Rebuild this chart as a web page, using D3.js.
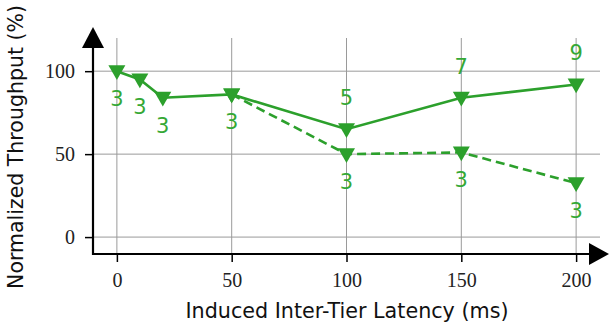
<!DOCTYPE html>
<html>
<head>
<meta charset="utf-8">
<script src="https://cdn.jsdelivr.net/npm/d3@7"></script>
<style>
  html, body { margin: 0; padding: 0; background: #fff; }
  svg { display: block; }
</style>
</head>
<body>
<svg id="chart" width="609" height="329"></svg>
<script>
// ── DATA ────────────────────────────────────────────
const xTicks = [0, 50, 100, 150, 200];
const yTicks = [0, 50, 100];

// solid series: latency (ms), throughput (%), annotation
const solidX      = [0, 10, 20, 50, 100, 150, 200];
const solidY      = [100, 95, 84, 86, 65, 84, 92];
const solidLabels = ['3', '3', '3', '3', '5', '7', '9'];
const solidPos    = ['below', 'below', 'below', 'below', 'above', 'above', 'above'];

// dashed series
const dashX      = [50, 100, 150, 200];
const dashY      = [86, 50, 51, 32.5];
const dashLabels = ['', '3', '3', '3'];
const dashPos    = ['below', 'below', 'below', 'below'];

const green = '#2ca02c';
const grid  = '#9a9a9a';

// ── SCALES ──────────────────────────────────────────
const svg = d3.select('#chart');
const x = d3.scaleLinear().domain([-10.4, 210.4]).range([93, 600]);
const y = d3.scaleLinear().domain([-10.2, 120]).range([254, 38]);

const [x0, x1] = x.range();
const [yB, yT] = y.range();

// grid
svg.append('g').selectAll('line.v').data(xTicks).enter().append('line')
  .attr('x1', d => x(d)).attr('x2', d => x(d))
  .attr('y1', yT).attr('y2', yB)
  .attr('stroke', grid).attr('stroke-width', 1);
svg.append('g').selectAll('line.h').data(yTicks).enter().append('line')
  .attr('x1', x0).attr('x2', x1)
  .attr('y1', d => y(d)).attr('y2', d => y(d))
  .attr('stroke', grid).attr('stroke-width', 1);

// axes via d3 axis generators, then restyled
const xAxis = svg.append('g').attr('transform', `translate(0,${yB})`)
  .call(d3.axisBottom(x).tickValues(xTicks).tickSize(8).tickPadding(11).tickFormat(d3.format('d')));
const yAxis = svg.append('g').attr('transform', `translate(${x0},0)`)
  .call(d3.axisLeft(y).tickValues(yTicks).tickSize(8).tickPadding(10).tickFormat(d3.format('d')));

[xAxis, yAxis].forEach(a => {
  a.select('.domain').remove();
  a.selectAll('.tick line').attr('stroke', '#000').attr('stroke-width', 1.5);
  a.selectAll('.tick text')
    .attr('fill', '#222')
    .style('font-family', '"Liberation Serif", "DejaVu Serif", serif')
    .style('font-size', '20px');
});

// axis lines with arrows
svg.append('line').attr('x1', x0).attr('x2', 592).attr('y1', yB).attr('y2', yB)
  .attr('stroke', '#000').attr('stroke-width', 2.2);
svg.append('line').attr('x1', x0).attr('x2', x0).attr('y1', yB + 1).attr('y2', 40)
  .attr('stroke', '#000').attr('stroke-width', 2.2);
svg.append('path').attr('d', `M609,${yB} L589,${yB - 11} L589,${yB + 11} Z`).attr('fill', '#000');
svg.append('path').attr('d', `M${x0},27 L${x0 - 11},48 L${x0 + 11},48 Z`).attr('fill', '#000');

// ── SERIES ─────────────────────────────────────────
const line = d3.line().x(d => x(d[0])).y(d => y(d[1]));
const solid = solidX.map((v, i) => [v, solidY[i], solidLabels[i], solidPos[i]]);
const dash  = dashX.map((v, i) => [v, dashY[i], dashLabels[i], dashPos[i]]);

svg.append('path').datum(dash).attr('d', line)
  .attr('fill', 'none').attr('stroke', green).attr('stroke-width', 2.6)
  .attr('stroke-dasharray', '9,5');
svg.append('path').datum(solid).attr('d', line)
  .attr('fill', 'none').attr('stroke', green).attr('stroke-width', 2.6);

const tri = d3.symbol().type(d3.symbolTriangle).size(125);
[solid, dash].forEach(series => {
  svg.append('g').selectAll('path').data(series).enter().append('path')
    .attr('d', tri)
    .attr('transform', d => `translate(${x(d[0])},${y(d[1]) - 1}) rotate(180)`)
    .attr('fill', green);

  svg.append('g').selectAll('text').data(series.filter(d => d[2])).enter().append('text')
    .attr('x', d => x(d[0]))
    .attr('y', d => y(d[1]) + (d[3] === 'below' ? 28 : -31))
    .attr('text-anchor', 'middle')
    .attr('dominant-baseline', 'central')
    .attr('fill', '#35a835')
    .style('font-family', '"DejaVu Sans", sans-serif')
    .style('font-size', '21px')
    .text(d => d[2]);
});

// ── TITLES ─────────────────────────────────────────
svg.append('text')
  .attr('x', 347).attr('y', 311)
  .attr('text-anchor', 'middle').attr('dominant-baseline', 'central')
  .attr('fill', '#111')
  .style('font-family', '"DejaVu Sans", sans-serif').style('font-size', '20.7px')
  .text('Induced Inter-Tier Latency (ms)');

svg.append('text')
  .attr('transform', 'translate(16,147) rotate(-90)')
  .attr('text-anchor', 'middle').attr('dominant-baseline', 'central')
  .attr('fill', '#111')
  .style('font-family', '"DejaVu Sans", sans-serif').style('font-size', '20.5px')
  .text('Normalized Throughput (%)');
</script>
</body>
</html>
